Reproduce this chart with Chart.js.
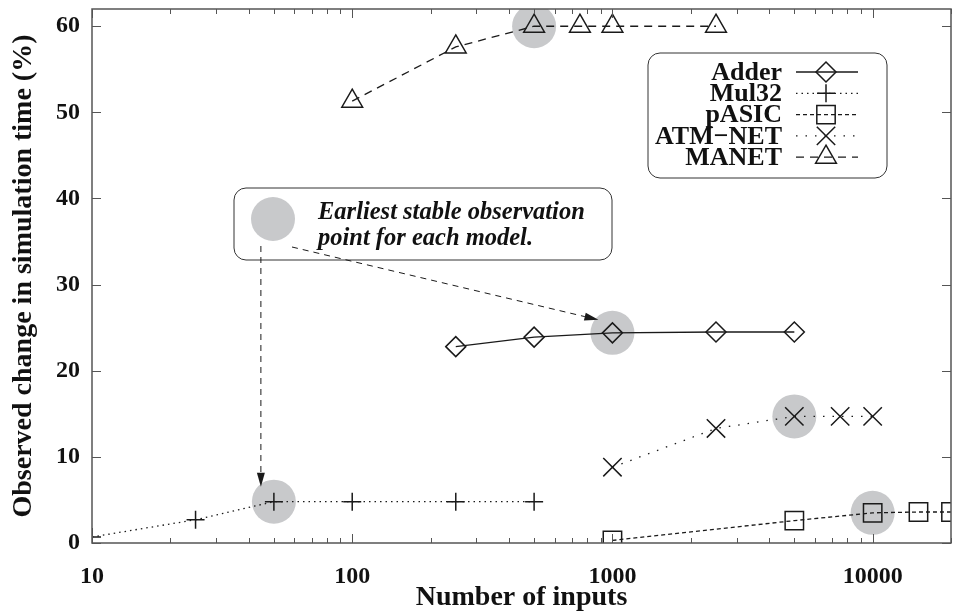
<!DOCTYPE html>
<html>
<head>
<meta charset="utf-8">
<script src="https://cdn.jsdelivr.net/npm/chart.js@4.4.1/dist/chart.umd.min.js"></script>
<style>
  html, body { margin: 0; padding: 0; background: #fff; }
  #wrap { width: 954px; height: 612px; }
</style>
</head>
<body>
<div id="wrap"><canvas id="myChart"></canvas></div>
<script>
// values
const adderX = [250, 500, 1000, 2500, 5000];
const adderY = [22.8, 23.9, 24.4, 24.5, 24.5];
const mul32X = [10, 25, 50, 100, 250, 500];
const mul32Y = [0.7, 2.7, 4.8, 4.8, 4.8, 4.8];
const pasicX = [1000, 5000, 10000, 15000, 20000];
const pasicY = [0.3, 2.6, 3.5, 3.6, 3.6];
const atmX = [1000, 2500, 5000, 7500, 10000];
const atmY = [8.8, 13.3, 14.7, 14.7, 14.7];
const manetX = [100, 250, 500, 750, 1000, 2500];
const manetY = [51.3, 57.6, 60, 60, 60, 60];
// earliest stable observation point of each model
const stableX = [50, 1000, 5000, 10000, 500];
const stableY = [4.8, 24.4, 14.7, 3.5, 60];

const xTicks = [10, 100, 1000, 10000];
const yTicks = [0, 10, 20, 30, 40, 50, 60];
const seriesNames = ['Adder', 'Mul32', 'pASIC', 'ATM\u2212NET', 'MANET'];

const serif = '"Liberation Serif", "Times New Roman", serif';
const ink = '#1a1a1a';

const pts = (xs, ys) => xs.map((x, i) => ({x: x, y: ys[i]}));

function series(name, xs, ys, style, radius, dash) {
  return {
    label: name,
    data: pts(xs, ys),
    showLine: true,
    borderColor: ink,
    borderWidth: 1.3,
    borderDash: dash,
    pointStyle: style,
    pointRadius: radius,
    pointBorderWidth: 1.5,
    pointBorderColor: ink,
    pointBackgroundColor: 'rgba(0,0,0,0)',
    order: 1
  };
}

const datasets = [
  {
    label: 'stable',
    data: pts(stableX, stableY),
    showLine: false,
    pointStyle: 'circle',
    pointRadius: 22,
    pointBorderWidth: 0,
    pointBackgroundColor: '#c8c9cb',
    order: 10
  },
  series('Adder', adderX, adderY, 'rectRot', 10, []),
  series('Mul32', mul32X, mul32Y, 'cross', 9, [1.5, 4]),
  series('pASIC', pasicX, pasicY, 'rect', 13, [4, 3]),
  series('ATM-NET', atmX, atmY, 'crossRot', 13, [1.5, 8]),
  series('MANET', manetX, manetY, 'triangle', 12, [8, 6])
];

function roundRect(ctx, x, y, w, h, r) {
  ctx.beginPath();
  ctx.moveTo(x + r, y);
  ctx.lineTo(x + w - r, y);
  ctx.arcTo(x + w, y, x + w, y + r, r);
  ctx.lineTo(x + w, y + h - r);
  ctx.arcTo(x + w, y + h, x + w - r, y + h, r);
  ctx.lineTo(x + r, y + h);
  ctx.arcTo(x, y + h, x, y + h - r, r);
  ctx.lineTo(x, y + r);
  ctx.arcTo(x, y, x + r, y, r);
  ctx.closePath();
}

function arrow(ctx, x1, y1, x2, y2) {
  ctx.save();
  ctx.strokeStyle = ink;
  ctx.lineWidth = 1;
  ctx.setLineDash([6, 5]);
  const a = Math.atan2(y2 - y1, x2 - x1);
  const L = 14;
  ctx.beginPath();
  ctx.moveTo(x1, y1);
  ctx.lineTo(x2 - L * Math.cos(a), y2 - L * Math.sin(a));
  ctx.stroke();
  ctx.setLineDash([]);
  ctx.fillStyle = ink;
  ctx.beginPath();
  ctx.moveTo(x2, y2);
  ctx.lineTo(x2 - L * Math.cos(a) + 4 * Math.sin(a), y2 - L * Math.sin(a) - 4 * Math.cos(a));
  ctx.lineTo(x2 - L * Math.cos(a) - 4 * Math.sin(a), y2 - L * Math.sin(a) + 4 * Math.cos(a));
  ctx.closePath();
  ctx.fill();
  ctx.restore();
}

// frame, inward ticks, legend box and the note box (gnuplot look)
const decorations = {
  id: 'decorations',
  afterDatasetsDraw(chart) {
    const ctx = chart.ctx;
    const a = chart.chartArea;
    const xs = chart.scales.x, ys = chart.scales.y;
    ctx.save();
    ctx.strokeStyle = '#555';
    ctx.lineWidth = 1.5;
    ctx.strokeRect(a.left, a.top, a.right - a.left, a.bottom - a.top);
    ctx.lineWidth = 1;
    ctx.beginPath();
    for (let d = 10; d <= 10000; d *= 10) {
      for (let k = 1; k <= 9; k++) {
        const v = k * d;
        if (v > xs.max) break;
        const px = Math.round(xs.getPixelForValue(v)) + 0.5;
        const len = k === 1 ? 9 : 5;
        ctx.moveTo(px, a.bottom); ctx.lineTo(px, a.bottom - len);
        ctx.moveTo(px, a.top); ctx.lineTo(px, a.top + len);
      }
    }
    yTicks.forEach(v => {
      const py = Math.round(ys.getPixelForValue(v)) + 0.5;
      ctx.moveTo(a.left, py); ctx.lineTo(a.left + 9, py);
      ctx.moveTo(a.right, py); ctx.lineTo(a.right - 9, py);
    });
    ctx.stroke();

    // legend
    const lg = {x: 648, y: 53, w: 239, h: 125};
    roundRect(ctx, lg.x, lg.y, lg.w, lg.h, 12);
    ctx.fillStyle = '#fff';
    ctx.fill();
    ctx.strokeStyle = '#333';
    ctx.lineWidth = 1;
    ctx.stroke();
    ctx.font = 'bold 26px ' + serif;
    ctx.textAlign = 'right';
    ctx.textBaseline = 'middle';
    const lines = datasets.slice(1);
    lines.forEach((ds, i) => {
      const yy = lg.y + 19 + i * 21.3;
      ctx.fillStyle = '#111';
      ctx.fillText(seriesNames[i], lg.x + 134, yy + 1);
      ctx.strokeStyle = ink;
      ctx.lineWidth = 1.3;
      ctx.setLineDash(ds.borderDash);
      ctx.beginPath();
      ctx.moveTo(lg.x + 148, yy);
      ctx.lineTo(lg.x + 210, yy);
      ctx.stroke();
      ctx.setLineDash([]);
      ctx.lineWidth = 1.5;
      ctx.fillStyle = 'rgba(0,0,0,0)';
      Chart.helpers.drawPoint(ctx, {pointStyle: ds.pointStyle, radius: ds.pointRadius, borderWidth: 1.5, rotation: 0}, lg.x + 178, yy);
    });

    // note box
    const nb = {x: 234, y: 188, w: 378, h: 72};
    roundRect(ctx, nb.x, nb.y, nb.w, nb.h, 12);
    ctx.fillStyle = '#fff';
    ctx.fill();
    ctx.strokeStyle = '#333';
    ctx.lineWidth = 1;
    ctx.stroke();
    ctx.fillStyle = '#c8c9cb';
    ctx.beginPath();
    ctx.arc(nb.x + 39, nb.y + 31, 22, 0, Math.PI * 2);
    ctx.fill();
    ctx.fillStyle = '#111';
    ctx.textAlign = 'left';
    ctx.textBaseline = 'alphabetic';
    ctx.font = 'italic bold 24.5px ' + serif;
    ctx.fillText('Earliest stable observation', nb.x + 84, nb.y + 31);
    ctx.fillText('point for each model.', nb.x + 84, nb.y + 57);

    // arrows towards the Mul32 and Adder highlights
    const mx = xs.getPixelForValue(stableX[0]) - 13, my = ys.getPixelForValue(stableY[0]) - 15;
    arrow(ctx, mx, nb.y + 58, mx, my);
    const ax = xs.getPixelForValue(stableX[1]) - 14, ay = ys.getPixelForValue(stableY[1]) - 13;
    arrow(ctx, nb.x + 58, nb.y + 59, ax, ay);
    ctx.restore();
  }
};

const ctxs = document.getElementById('myChart');
new Chart(ctxs, {
  type: 'scatter',
  data: {datasets: datasets},
  options: {
    responsive: true,
    maintainAspectRatio: false,
    animation: false,
    layout: {autoPadding: false, padding: {top: 9, right: 3, left: 0, bottom: 0}},
    plugins: {legend: {display: false}, tooltip: {enabled: false}},
    scales: {
      x: {
        type: 'logarithmic',
        min: 10,
        max: 20000,
        afterBuildTicks: s => { s.ticks = xTicks.map(v => ({value: v})); },
        afterFit: s => { s.height = 69; s.paddingLeft = 0; s.paddingRight = 0; },
        grid: {display: false, drawTicks: false},
        border: {display: false},
        ticks: {
          padding: 19,
          color: '#111',
          font: {family: serif, size: 24, weight: 'bold'},
          callback: v => String(v)
        },
        title: {
          display: true,
          text: 'Number of inputs',
          color: '#111',
          padding: {top: 0, bottom: -3},
          font: {family: serif, size: 28, weight: 'bold'}
        }
      },
      y: {
        min: 0,
        max: 62,
        afterBuildTicks: s => { s.ticks = yTicks.map(v => ({value: v})); },
        afterFit: s => { s.width = 92; s.paddingTop = 0; s.paddingBottom = 0; },
        grid: {display: false, drawTicks: false},
        border: {display: false},
        ticks: {
          padding: 12,
          color: '#111',
          font: {family: serif, size: 24, weight: 'bold'}
        },
        title: {
          display: true,
          text: 'Observed change in simulation time (%)',
          color: '#111',
          padding: {top: 7, bottom: 0},
          font: {family: serif, size: 28, weight: 'bold'}
        }
      }
    }
  },
  plugins: [decorations]
});
</script>
</body>
</html>
